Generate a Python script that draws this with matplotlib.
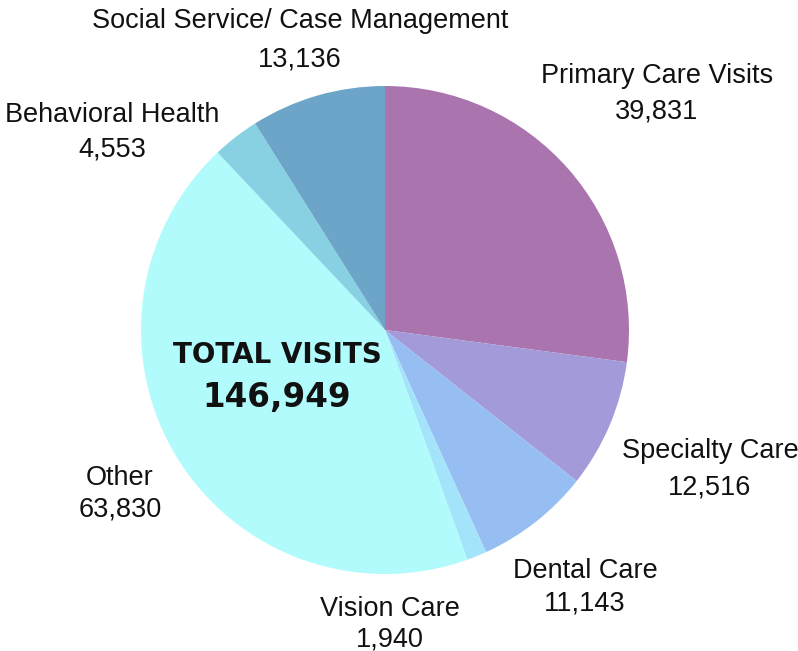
import matplotlib.pyplot as plt

plt.rcParams['font.family'] = ['Liberation Sans', 'DejaVu Sans']

labels = ['Primary Care Visits', 'Specialty Care', 'Dental Care', 'Vision Care',
          'Other', 'Behavioral Health', 'Social Service/ Case Management']
visits = [39831, 12516, 11143, 1940, 63830, 4553, 13136]
colors = ['#AA75AE', '#A29AD9', '#96BEF3', '#A3E4FA', '#B2FBFC', '#88D1E3', '#6CA5C8']
# label text placement in pixels: x centre, name baseline, value baseline (from top)
label_pos = [(657, 83, 118), (710, 458, 494), (585, 578, 610), (390, 616, 646),
             (120, 485, 517), (112, 122, 156), (300, 28, 66)]

W, H = 798, 651
fig = plt.figure(figsize=(W / 100, H / 100), dpi=100)
ax = fig.add_axes([0, 0, 1, 1])

ax.pie(visits, colors=colors, startangle=90, counterclock=False,
       center=(385, H - 330), radius=244, frame=True,
       wedgeprops=dict(linewidth=0))
ax.set_xlim(0, W)
ax.set_ylim(0, H)
ax.set_aspect('equal')
ax.axis('off')

for name, v, (x, y1, y2) in zip(labels, visits, label_pos):
    ax.text(x, H - y1, name, ha='center', va='baseline', fontsize=19.5, color='#111111')
    ax.text(x, H - y2, f'{v:,}', ha='center', va='baseline', fontsize=19.5, color='#111111')

total = sum(visits)
ax.text(277, H - 355, 'TOTAL VISITS', ha='center', va='center', fontsize=20,
        fontweight='bold', family='DejaVu Sans', color='#111111')
ax.text(277, H - 397, f'{total:,}', ha='center', va='center', fontsize=23.5,
        fontweight='bold', family='DejaVu Sans', color='#111111')

fig.savefig('out.png', dpi=100)
